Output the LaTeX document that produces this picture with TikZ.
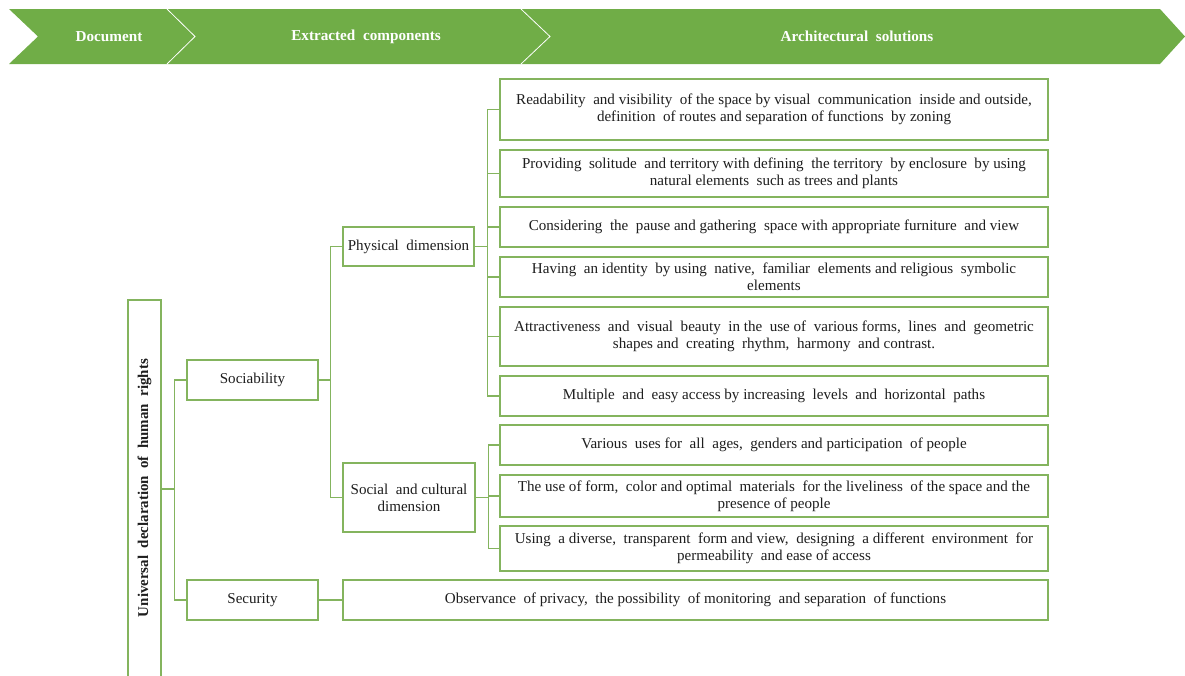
\documentclass[tikz,border=0pt]{standalone}
\usepackage{fontspec}
\setmainfont{Liberation Serif}
\definecolor{bandgreen}{RGB}{112,173,71}
\definecolor{linegreen}{RGB}{132,180,94}
\definecolor{inktext}{RGB}{30,30,30}
\begin{document}
\begin{tikzpicture}[x=0.75pt,y=-0.75pt,
  box/.style={draw=linegreen, line width=0.85pt, fill=white, inner sep=0pt,
    align=center, font=\fontsize{11.3}{12.75}\selectfont, text=inktext},
  wide/.style={box, minimum width=411pt},
  conn/.style={draw=linegreen, line width=0.85pt},
  hdtext/.style={text=white, font=\fontsize{11.4}{12}\selectfont\bfseries, inner sep=0pt}]
\useasboundingbox (0,0) rectangle (1185,675);

% header band of chevrons
\fill[bandgreen] (9,9) -- (1160,9) -- (1185,36.5) -- (1160,64) -- (9,64) -- (38,36.5) -- cycle;
\draw[white, line width=0.6pt] (167,9) -- (195,36.5) -- (167,64);
\draw[white, line width=0.6pt] (521,9) -- (550,36.5) -- (521,64);
\node[hdtext] (hd1) at (109,36.5) {Document};
\node[hdtext] (hd2) at (366,36.5) {Extracted\ \ components};
\node[hdtext] (hd3) at (857,36.5) {Architectural\ \ solutions};

% document column
\node[box, minimum width=24.75pt, minimum height=283.5pt] (doc) at (144.5,489) {};
\node[rotate=90, font=\fontsize{11.2}{12}\selectfont\bfseries, text=inktext] (doctext) at (144.5,488) {Universal\ \ declaration\ \ of\ \ human\ \ rights};

% extracted components
\node[box, minimum width=98.25pt, minimum height=30pt] (soc) at (252.5,380) {Sociability};
\node[box, minimum width=98.25pt, minimum height=30pt] (sec) at (252.5,600) {Security};
\node[box, minimum width=98.25pt, minimum height=29.25pt] (phys) at (408.5,246.5) {Physical\ \ dimension};
\node[box, minimum width=99pt, minimum height=51.75pt] (socult) at (409,497.5) {Social\ \ and\ cultural\\dimension};

% architectural solutions
\node[wide, minimum height=45.75pt] (r1) at (774,109.5) {Readability\ \ and visibility\ \ of the space by visual\ \ communication\ \ inside and outside,\\definition\ \ of routes and separation of functions\ \ by zoning};
\node[wide, minimum height=35.25pt] (r2) at (774,173.5) {Providing\ \ solitude\ \ and territory with defining\ \ the territory\ \ by enclosure\ \ by using\\natural elements\ \ such as trees and plants};
\node[wide, minimum height=30pt] (r3) at (774,227) {Considering\ \ the\ \ pause and gathering\ \ space with appropriate furniture\ \ and view};
\node[wide, minimum height=30pt] (r4) at (774,277) {Having\ \ an identity\ \ by using\ \ native,\ \ familiar\ \ elements and religious\ \ symbolic\\elements};
\node[wide, minimum height=44.25pt] (r5) at (774,336.5) {Attractiveness\ \ and\ \ visual\ \ beauty\ \ in the\ \ use of\ \ various forms,\ \ lines\ \ and\ \ geometric\\shapes and\ \ creating\ \ rhythm,\ \ harmony\ \ and contrast.};
\node[wide, minimum height=30pt] (r6) at (774,396) {Multiple\ \ and\ \ easy\ access by increasing\ \ levels\ \ and\ \ horizontal\ \ paths};
\node[wide, minimum height=30pt] (r7) at (774,445) {Various\ \ uses for\ \ all\ \ ages,\ \ genders and participation\ \ of people};
\node[wide, minimum height=31.5pt] (r8) at (774,496) {The use of form,\ \ color and optimal\ \ materials\ \ for the liveliness\ \ of the space and the\\presence of people};
\node[wide, minimum height=33.75pt] (r9) at (774,548.5) {Using\ \ a diverse,\ \ transparent\ \ form and view,\ \ designing\ \ a different\ \ environment\ \ for\\permeability\ \ and ease of access};
\node[box, minimum width=528.75pt, minimum height=30pt] (obs) at (695.5,600) {Observance\ \ of privacy,\ \ the possibility\ \ of monitoring\ \ and separation\ \ of functions};

% tree connectors
\draw[conn] (doc.east) -- ++(13,0) coordinate (t1);
\draw[conn] (t1) |- (soc.west);
\draw[conn] (t1) |- (sec.west);

\draw[conn] (soc.east) -- ++(12,0) coordinate (t2);
\draw[conn] (t2) |- (phys.west);
\draw[conn] (t2) |- (socult.west);

\draw[conn] (phys.east) -- ++(13,0) coordinate (t3);
\foreach \r in {r1,r2,r3,r4,r5,r6} \draw[conn] (t3) |- (\r.west);

\draw[conn] (socult.east) -- ++(13,0) coordinate (t4);
\foreach \r in {r7,r8,r9} \draw[conn] (t4) |- (\r.west);

\draw[conn] (sec.east) -- (obs.west);
\end{tikzpicture}
\end{document}
